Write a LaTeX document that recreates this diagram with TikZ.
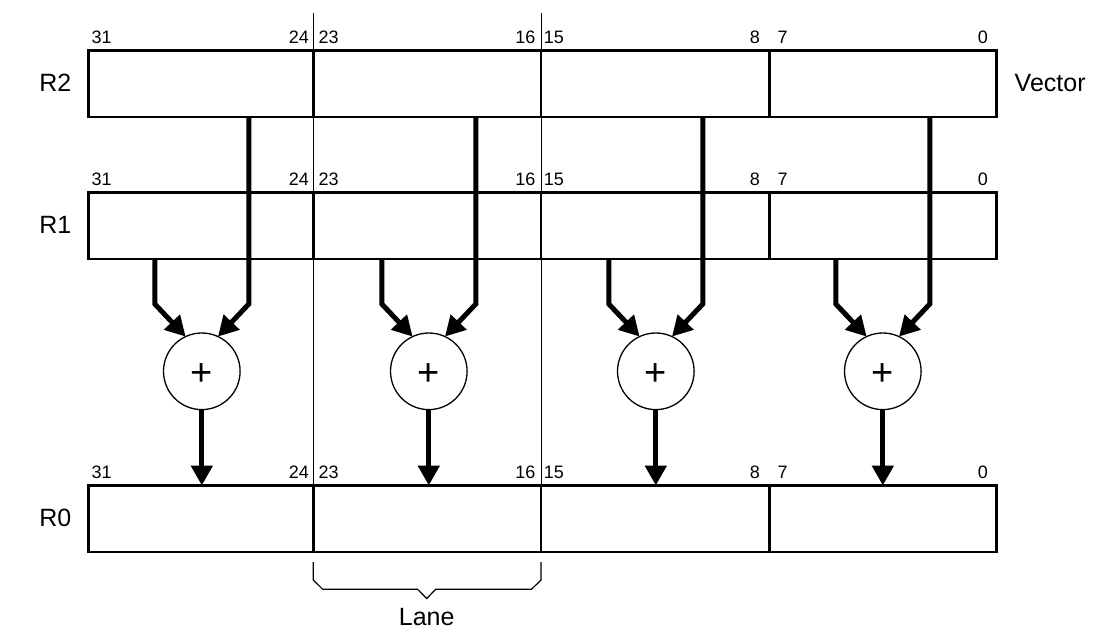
\documentclass[tikz,border=0pt]{standalone}
\usepackage{fontspec}
\setmainfont{Liberation Sans}
\usetikzlibrary{arrows.meta}
\tikzset{
  cell/.style={draw, line width=2.5pt, minimum height=66.5pt, inner sep=0pt, outer sep=0pt},
  thinln/.style={line width=1pt},
  bigarr/.style={line width=5pt, -{Triangle[length=20pt,width=21pt]}},
  adder/.style={circle, draw, line width=1.3pt, minimum size=76.6pt, inner sep=0pt, outer sep=0pt},
  plustxt/.style={inner sep=0pt, anchor=base, font=\fontsize{38}{40}\selectfont},
  bitl/.style={inner sep=0pt, font=\fontsize{18}{20}\selectfont},
  reglbl/.style={inner sep=0pt, font=\fontsize{25}{28}\selectfont},
  bracestyle/.style={line width=1.2pt}
}
\begin{document}
\begin{tikzpicture}[x=1pt,y=-1pt]
\useasboundingbox (0,0) rectangle (1107,644);
% thin lane separators
\coordinate (t1top) at (313.3,13);
\coordinate (t1bot) at (313.3,551.7);
\coordinate (t2top) at (541,13);
\coordinate (t2bot) at (541,551.7);
\draw[thinln] (t1top) -- (t1bot);
\draw[thinln] (t2top) -- (t2bot);
% register cells
\foreach \i/\cx/\w in {0/200.8/225, 1/427.15/227.7, 2/655.15/228.3, 3/883.0/227.4} {
  \node[cell, minimum width=\w pt] (r2c\i) at (\cx,84) {};
  \node[cell, minimum width=\w pt] (r1c\i) at (\cx,225.85) {};
  \node[cell, minimum width=\w pt] (r0c\i) at (\cx,518.75) {};
}
% bit labels
\foreach \r/\yb in {2/43.3, 1/185.3, 0/478.3} {
  \node[bitl, anchor=base west] (b\r a) at (91.5,\yb) {31};
  \node[bitl, anchor=base east] (b\r b) at (309,\yb) {24};
  \node[bitl, anchor=base west] (b\r c) at (318.5,\yb) {23};
  \node[bitl, anchor=base east] (b\r d) at (535.7,\yb) {16};
  \node[bitl, anchor=base west] (b\r e) at (543.7,\yb) {15};
  \node[bitl, anchor=base east] (b\r f) at (760,\yb) {8};
  \node[bitl, anchor=base west] (b\r g) at (777.4,\yb) {7};
  \node[bitl, anchor=base east] (b\r h) at (988,\yb) {0};
}
% adders and arrows
\foreach \i/\ax in {0/201.8, 1/428.8, 2/655.8, 3/882.8} {
  \node[adder] (add\i) at (\ax,371.3) {};
  \node[plustxt] (plus\i) at (\ax,385) {+};
  \coordinate (k2\i) at (\ax+47,304);
  \coordinate (k1\i) at (\ax-47,304);
  \draw[bigarr] (r2c\i.south -| k2\i) -- (k2\i) -- (add\i.65);
  \draw[bigarr] (r1c\i.south -| k1\i) -- (k1\i) -- (add\i.115);
  \draw[bigarr] (add\i.south) -- (add\i.south |- r0c\i.north);
}
% register labels
\node[reglbl] (lR2) at (55.3,82.7) {R2};
\node[reglbl] (lR1) at (55.3,224.7) {R1};
\node[reglbl] (lR0) at (55.3,517.7) {R0};
\node[reglbl, anchor=west] (lvec) at (1014.5,82.7) {Vector};
% lane brace
\draw[bracestyle] (313.3,562) -- (313.3,580) -- (322.7,589.3) -- (417.7,589.3) -- (426.7,598.5) -- (435.7,589.3) -- (531.5,589.3) -- (541,580) -- (541,562);
\node[reglbl, anchor=base] (llane) at (426.7,625) {Lane};
\end{tikzpicture}
\end{document}
